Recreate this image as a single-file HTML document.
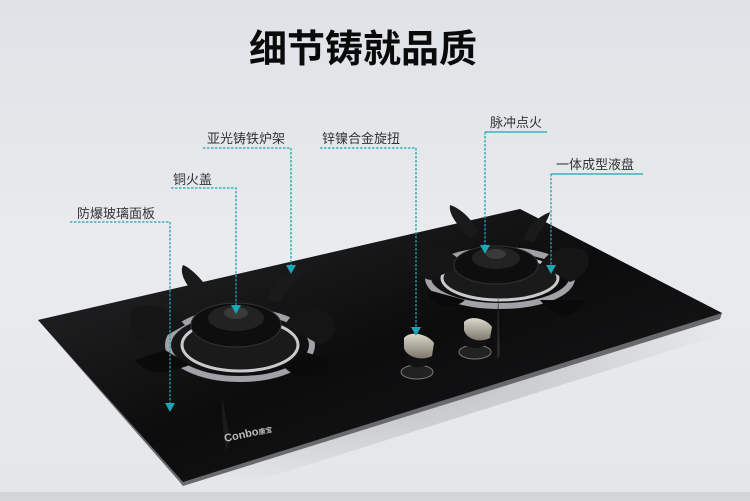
<!DOCTYPE html>
<html><head><meta charset="utf-8"><style>
html,body{margin:0;padding:0}
body{width:750px;height:501px;overflow:hidden;background:linear-gradient(180deg,#dfe2e6 0%,#e9ebee 50%,#e4e6e9 100%);font-family:"Liberation Sans","Noto Sans CJK SC",sans-serif}
</style></head><body>
<svg width="750" height="501" viewBox="0 0 750 501" xmlns="http://www.w3.org/2000/svg" style="position:absolute;left:0;top:0">
<defs>
<radialGradient id="sh" cx="50%" cy="50%" r="50%"><stop offset="0" stop-color="#9a9ca0" stop-opacity=".6"/><stop offset="1" stop-color="#9a9ca0" stop-opacity="0"/></radialGradient>
<linearGradient id="gl" x1="0" y1="0" x2="1" y2="1"><stop offset="0" stop-color="#2a2a2c"/><stop offset=".5" stop-color="#0c0c0d"/><stop offset="1" stop-color="#1c1c1e"/></linearGradient>
<linearGradient id="kb" x1="0" y1="0" x2="0" y2="1"><stop offset="0" stop-color="#ddd8cc"/><stop offset="1" stop-color="#7d786c"/></linearGradient>
</defs>
<text x="363" y="62" text-anchor="middle" font-size="38" font-weight="bold" fill="#0a0a0a" font-family="Liberation Sans,Noto Sans CJK SC,sans-serif">细节铸就品质</text>
<polygon points="50,330 530,222 730,322 190,492" fill="url(#sh)" transform="translate(6,8)"/>
<rect x="0" y="492" width="750" height="9" fill="#d3d5d8"/>
<polygon points="38,320 520,209 722,313 720,319 183,486 178,480" fill="#6a6a6c"/>
<polygon points="38,320 520,209 722,313 183,482" fill="url(#gl)"/>
<g>
<ellipse cx="240" cy="345" rx="72" ry="34" fill="none" stroke="#a0a2a5" stroke-width="6"/>
<ellipse cx="240" cy="345" rx="58" ry="26" fill="#1a1a1a" stroke="#c8cacc" stroke-width="3"/>
<path d="M135,308 C160,300 175,315 185,325 L150,345 C130,340 125,320 135,308Z" fill="#151515"/>
<path d="M330,315 C305,300 290,315 285,325 L320,345 C335,340 340,325 330,315Z" fill="#151515"/>
<path d="M135,360 C150,380 175,370 190,365 L165,350Z" fill="#0a0a0a"/>
<path d="M330,360 C320,385 295,378 285,368 L305,352Z" fill="#0a0a0a"/>
<path d="M183,265 C195,270 205,285 210,290 L200,300 C190,290 178,275 183,265Z" fill="#1a1a1a"/>
<path d="M300,268 C285,272 270,285 268,300 L280,302 C285,290 300,280 300,268Z" fill="#1a1a1a"/>
<ellipse cx="236" cy="325" rx="45" ry="22" fill="#0e0e0e" stroke="#333" stroke-width="1"/>
<ellipse cx="236" cy="318" rx="28" ry="13" fill="#222"/>
<ellipse cx="236" cy="313" rx="12" ry="6" fill="#3a3a3a"/>
<path d="M222,395 L230,440 L226,452 L222,420Z" fill="#1a1a1a"/>
</g>
<g>
<ellipse cx="500" cy="278" rx="72" ry="28" fill="none" stroke="#a0a2a5" stroke-width="6"/>
<ellipse cx="500" cy="278" rx="58" ry="22" fill="#1a1a1a" stroke="#c8cacc" stroke-width="3"/>
<path d="M410,250 C440,240 455,255 465,265 L430,280 C410,275 402,258 410,250Z" fill="#151515"/>
<path d="M585,250 C560,242 545,255 540,265 L570,282 C590,275 592,258 585,250Z" fill="#151515"/>
<path d="M428,290 C430,310 455,310 465,300Z" fill="#0a0a0a"/>
<path d="M540,300 C560,325 580,315 585,300Z" fill="#0a0a0a"/>
<path d="M450,205 C465,210 475,225 478,232 L470,238 C460,228 448,215 450,205Z" fill="#1a1a1a"/>
<path d="M550,212 C535,218 525,230 524,240 L534,242 C538,232 548,222 550,212Z" fill="#1a1a1a"/>
<ellipse cx="496" cy="265" rx="42" ry="19" fill="#0e0e0e" stroke="#333" stroke-width="1"/>
<ellipse cx="496" cy="258" rx="24" ry="11" fill="#222"/>
<ellipse cx="496" cy="254" rx="10" ry="5" fill="#3a3a3a"/>
<path d="M498,290 L500,355 L497,360Z" fill="#2a2a2a"/>
</g>
<g>
<ellipse cx="417" cy="372" rx="16" ry="7" fill="#222" stroke="#777" stroke-width="1"/>
<ellipse cx="418" cy="360" rx="12" ry="7" fill="#111"/>
<path d="M404,338 C410,330 428,334 434,343 L432,356 C420,362 406,356 404,348Z" fill="url(#kb)"/>
<ellipse cx="475" cy="352" rx="16" ry="7" fill="#222" stroke="#777" stroke-width="1"/>
<ellipse cx="475" cy="341" rx="12" ry="7" fill="#111"/>
<path d="M464,322 C470,315 486,318 492,327 L490,338 C478,344 466,338 464,330Z" fill="url(#kb)"/>
</g>
<text x="225" y="442" font-size="11" font-weight="bold" fill="#bdbdbd" transform="rotate(-12 225 442)">Conbo<tspan font-size="7">康宝</tspan></text>
<g stroke="#1ba5b5" stroke-width="1.3" stroke-dasharray="2.5,1.5" fill="none">
<polyline points="203,148 291,148 291,272"/>
<polyline points="171,188 236,188 236,312"/>
<polyline points="70,222 170,222 170,410"/>
<polyline points="320,148 416,148 416,334"/>
<polyline points="485,132 547,132 485,132 485,250"/>
<polyline points="551,174 643,174 551,174 551,271"/>
</g>
<g fill="#1ba5b5">
<polygon points="286,265 296,265 291,274"/>
<polygon points="231,305 241,305 236,314"/>
<polygon points="165,403 175,403 170,412"/>
<polygon points="411,327 421,327 416,336"/>
<polygon points="480,245 490,245 485,254"/>
<polygon points="546,265 556,265 551,274"/>
</g>
<g font-size="13" fill="#333" font-family="Liberation Sans,Noto Sans CJK SC,sans-serif">
<text x="207" y="143">亚光铸铁炉架</text>
<text x="173" y="184">铜火盖</text>
<text x="77" y="218">防爆玻璃面板</text>
<text x="322" y="143">锌镍合金旋扭</text>
<text x="490" y="127">脉冲点火</text>
<text x="556" y="169">一体成型液盘</text>
</g>
</svg>
</body></html>
